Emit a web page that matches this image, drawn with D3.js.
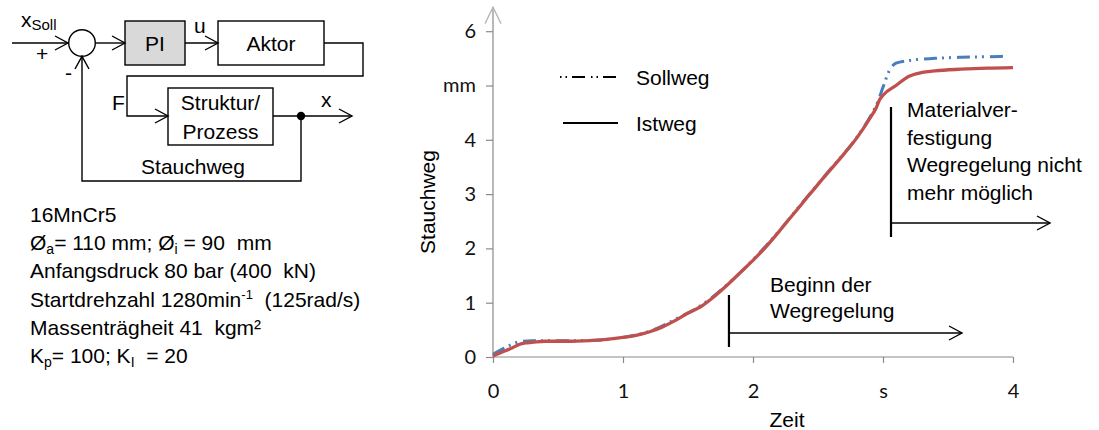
<!DOCTYPE html>
<html>
<head>
<meta charset="utf-8">
<script src="https://cdn.jsdelivr.net/npm/d3@7"></script>
<style>
  body { margin: 0; background: #fff; }
  text { font-family: "Liberation Sans", Arial, sans-serif; white-space: pre; }
</style>
</head>
<body>
<div id="chart"></div>
<script>
// Zeit in s
var istZeit = [0, 0.05, 0.1, 0.15, 0.2, 0.25, 0.3, 0.4, 0.6, 0.8, 1.0, 1.1, 1.2, 1.3, 1.4, 1.5, 1.6, 1.7, 1.8, 1.9,
  2.0, 2.1, 2.2, 2.3, 2.4, 2.5, 2.6, 2.7, 2.8, 2.9, 2.95, 2.97, 3.0, 3.1, 3.2, 3.3, 3.4, 3.6, 3.8, 4.0];
// Istweg in mm
var istWeg = [0.02, 0.07, 0.12, 0.17, 0.23, 0.26, 0.27, 0.29, 0.29, 0.31, 0.36, 0.40, 0.46, 0.55, 0.67, 0.81, 0.93, 1.11, 1.32, 1.55,
  1.78, 2.03, 2.31, 2.60, 2.89, 3.18, 3.46, 3.74, 4.04, 4.40, 4.60, 4.72, 4.82, 5.00, 5.17, 5.24, 5.27, 5.30, 5.32, 5.33];

var sollZeit = [0, 0.05, 0.1, 0.15, 0.2, 0.3, 0.4, 0.6, 0.8, 1.0, 1.2, 1.4, 1.6, 1.8, 2.0, 2.2, 2.4, 2.6, 2.8, 2.9,
  2.96, 3.0, 3.05, 3.1, 3.2, 3.4, 3.6, 3.8, 3.96];
var sollWeg = [0.05, 0.12, 0.18, 0.24, 0.28, 0.30, 0.30, 0.30, 0.31, 0.36, 0.47, 0.69, 0.95, 1.33, 1.79, 2.32, 2.90, 3.47, 4.05, 4.42,
  4.70, 4.97, 5.28, 5.41, 5.46, 5.50, 5.52, 5.53, 5.54];

var yTicks = [0, 1, 2, 3, 4, 5, 6];
var yTickLabels = ["0", "1", "2", "3", "4", "mm", "6"];
var xTicks = [0, 1, 2, 3, 4];
var xTickLabels = ["0", "1", "2", "s", "4"];

var svgWidth = 1099;
var svgHeight = 430;

var svg = d3.select("#chart")
  .append("svg")
  .attr("width", svgWidth)
  .attr("height", svgHeight);

svg.append("rect").attr("width", svgWidth).attr("height", svgHeight).attr("fill", "#fff");

var x = d3.scaleLinear().domain([0, 4]).range([493, 1013]);
var y = d3.scaleLinear().domain([0, 6]).range([357, 31.2]);

// ---- Achsen
var axisColor = "#8a8a8a";

var bottomAxis = d3.axisBottom(x)
  .tickValues(xTicks)
  .tickSize(6)
  .tickSizeOuter(0)
  .tickPadding(21)
  .tickFormat((d, i) => xTickLabels[i]);

var leftAxis = d3.axisLeft(y)
  .tickValues(yTicks)
  .tickSize(7)
  .tickSizeOuter(0)
  .tickPadding(10)
  .tickFormat((d, i) => yTickLabels[i]);

var gx = svg.append("g")
  .attr("transform", "translate(0," + y(0) + ")")
  .call(bottomAxis);

var gy = svg.append("g")
  .attr("transform", "translate(" + x(0) + ",0)")
  .call(leftAxis);

[gx, gy].forEach(function(g) {
  g.select(".domain").remove();
  g.selectAll(".tick line").attr("stroke", axisColor).attr("stroke-width", 1.2);
  g.selectAll(".tick text")
    .attr("fill", "#111")
    .style("font-family", "Lato, 'Open Sans', sans-serif")
    .style("font-size", "20px");
});

// x-Achsenlinie
svg.append("line")
  .attr("x1", x(0)).attr("x2", x(4))
  .attr("y1", y(0)).attr("y2", y(0))
  .attr("stroke", axisColor).attr("stroke-width", 1.2);

// y-Achse mit Pfeil
svg.append("line")
  .attr("x1", x(0)).attr("x2", x(0))
  .attr("y1", y(0)).attr("y2", y(6.44))
  .attr("stroke", axisColor).attr("stroke-width", 1.2);
svg.append("polyline")
  .attr("points", [[x(0) - 8, y(6.14)], [x(0), y(6.44)], [x(0) + 8, y(6.14)]].join(" "))
  .attr("fill", "none")
  .attr("stroke", "#b4b4b4").attr("stroke-width", 1.3);

svg.append("text")
  .attr("transform", "translate(435,202) rotate(-90)")
  .attr("text-anchor", "middle")
  .style("font-size", "21px")
  .text("Stauchweg");

svg.append("text")
  .attr("x", 787).attr("y", 427)
  .attr("text-anchor", "middle")
  .style("font-size", "21px")
  .text("Zeit");

// ---- Kurven
var sollData = sollZeit.map((t, i) => [t, sollWeg[i]]);
var istData = istZeit.map((t, i) => [t, istWeg[i]]);

var line = d3.line()
  .x(d => x(d[0]))
  .y(d => y(d[1]))
  .curve(d3.curveMonotoneX);

svg.append("path")
  .datum(sollData)
  .attr("d", line)
  .attr("fill", "none")
  .attr("stroke", "#4a7ebb")
  .attr("stroke-width", 3)
  .attr("stroke-dasharray", "13,5,2,5,2,6");

svg.append("path")
  .datum(istData)
  .attr("d", line)
  .attr("fill", "none")
  .attr("stroke", "#c0504d")
  .attr("stroke-width", 3.3);

// ---- Legende
svg.append("line")
  .attr("x1", 560).attr("x2", 618).attr("y1", 77).attr("y2", 77)
  .attr("stroke", "#000").attr("stroke-width", 1.8)
  .attr("stroke-dasharray", "1.5,4,1.5,5,13,6");
svg.append("text").attr("x", 636).attr("y", 85).style("font-size", "21px").text("Sollweg");

svg.append("line")
  .attr("x1", 563).attr("x2", 618).attr("y1", 123).attr("y2", 123)
  .attr("stroke", "#000").attr("stroke-width", 1.8);
svg.append("text").attr("x", 636).attr("y", 131).style("font-size", "21px").text("Istweg");

// ---- Anmerkungen
function chevronRight(g, px, py) {
  g.append("polyline")
    .attr("points", [[px - 13, py - 7], [px, py], [px - 13, py + 7]].join(" "))
    .attr("fill", "none").attr("stroke", "#000").attr("stroke-width", 1.4);
}

// Beginn der Wegregelung
svg.append("line")
  .attr("x1", x(1.815)).attr("x2", x(1.815)).attr("y1", 295).attr("y2", 347)
  .attr("stroke", "#000").attr("stroke-width", 2.2);
svg.append("line")
  .attr("x1", x(1.815)).attr("x2", 962).attr("y1", 333).attr("y2", 333)
  .attr("stroke", "#000").attr("stroke-width", 1.4);
chevronRight(svg, 962, 333);
svg.append("text").attr("x", 770).attr("y", 292).style("font-size", "21px").text("Beginn der");
svg.append("text").attr("x", 770).attr("y", 318).style("font-size", "21px").text("Wegregelung");

// Materialverfestigung
svg.append("line")
  .attr("x1", 891).attr("x2", 891).attr("y1", 107).attr("y2", 237)
  .attr("stroke", "#000").attr("stroke-width", 2.2);
svg.append("line")
  .attr("x1", 891).attr("x2", 1050).attr("y1", 223).attr("y2", 223)
  .attr("stroke", "#000").attr("stroke-width", 1.4);
chevronRight(svg, 1050, 223);
["Materialver-", "festigung", "Wegregelung nicht", "mehr möglich"].forEach(function(s, i) {
  svg.append("text").attr("x", 907).attr("y", 117 + i * 27.7).style("font-size", "21px").text(s);
});

// ---- Blockschaltbild
var bd = svg.append("g")
  .attr("fill", "none")
  .attr("stroke", "#000")
  .attr("stroke-width", 1.4);

function path(pts) {
  bd.append("polyline").attr("points", pts.join(" "));
}

// Eingang
path([[12, 43], [68, 43]]);
chevronRight(svg, 68, 43);
bd.append("circle").attr("cx", 82).attr("cy", 43).attr("r", 13.3);
path([[95.3, 43], [125, 43]]);
chevronRight(svg, 125, 43);

bd.append("rect").attr("x", 125).attr("y", 21).attr("width", 60).attr("height", 44).attr("fill", "#d9d9d9");
path([[185, 43], [218, 43]]);
chevronRight(svg, 218, 43);
bd.append("rect").attr("x", 218).attr("y", 21).attr("width", 106).attr("height", 44).attr("fill", "#fff");

path([[324, 43], [363, 43], [363, 76], [127, 76], [127, 116], [168, 116]]);
chevronRight(svg, 168, 116);

bd.append("rect").attr("x", 168).attr("y", 88).attr("width", 105).attr("height", 57).attr("fill", "#fff");
path([[273, 116], [352, 116]]);
chevronRight(svg, 352, 116);
svg.append("circle").attr("cx", 301).attr("cy", 116).attr("r", 4.2).attr("fill", "#000");

path([[301, 116], [301, 181], [82, 181], [82, 56.3]]);
svg.append("polyline")
  .attr("points", [[75, 69], [82, 56.3], [89, 69]].join(" "))
  .attr("fill", "none").attr("stroke", "#000").attr("stroke-width", 1.4);

var lbl = svg.append("g").style("font-size", "21px");
lbl.append("text").attr("x", 155).attr("y", 51).attr("text-anchor", "middle").text("PI");
lbl.append("text").attr("x", 271).attr("y", 51).attr("text-anchor", "middle").text("Aktor");
lbl.append("text").attr("x", 220.5).attr("y", 110).attr("text-anchor", "middle").text("Struktur/");
lbl.append("text").attr("x", 220.5).attr("y", 139).attr("text-anchor", "middle").text("Prozess");
lbl.append("text").attr("x", 193).attr("y", 174).attr("text-anchor", "middle").text("Stauchweg");
lbl.append("text").attr("x", 194).attr("y", 33).text("u");
lbl.append("text").attr("x", 112).attr("y", 110).text("F");
lbl.append("text").attr("x", 321).attr("y", 107).text("x");
lbl.append("text").attr("x", 36).attr("y", 61).text("+");
lbl.append("text").attr("x", 65).attr("y", 80).text("-");
var xs = lbl.append("text").attr("x", 21).attr("y", 27);
xs.append("tspan").text("x");
xs.append("tspan").attr("dy", 3).style("font-size", "15px").text("Soll");

// ---- Versuchsdaten
var info = svg.append("g").style("font-size", "21px");
var lh = 28.2, top0 = 222;
info.append("text").attr("x", 30).attr("y", top0).text("16MnCr5");

var t2 = info.append("text").attr("x", 30).attr("y", top0 + lh);
t2.append("tspan").text("Ø");
t2.append("tspan").attr("dy", 4).style("font-size", "14px").text("a");
t2.append("tspan").attr("dy", -4).text("= 110 mm; Ø");
t2.append("tspan").attr("dy", 4).style("font-size", "14px").text("i");
t2.append("tspan").attr("dy", -4).text(" = 90  mm");

info.append("text").attr("x", 30).attr("y", top0 + 2 * lh).text("Anfangsdruck 80 bar (400  kN)");

var t4 = info.append("text").attr("x", 30).attr("y", top0 + 3 * lh);
t4.append("tspan").text("Startdrehzahl 1280min");
t4.append("tspan").attr("dy", -8).style("font-size", "13px").text("-1");
t4.append("tspan").attr("dy", 8).text("  (125rad/s)");

info.append("text").attr("x", 30).attr("y", top0 + 4 * lh).text("Massenträgheit 41  kgm²");

var t6 = info.append("text").attr("x", 30).attr("y", top0 + 5 * lh);
t6.append("tspan").text("K");
t6.append("tspan").attr("dy", 4).style("font-size", "14px").text("p");
t6.append("tspan").attr("dy", -4).text("= 100; K");
t6.append("tspan").attr("dy", 4).style("font-size", "14px").text("I");
t6.append("tspan").attr("dy", -4).text("  = 20");
</script>
</body>
</html>
